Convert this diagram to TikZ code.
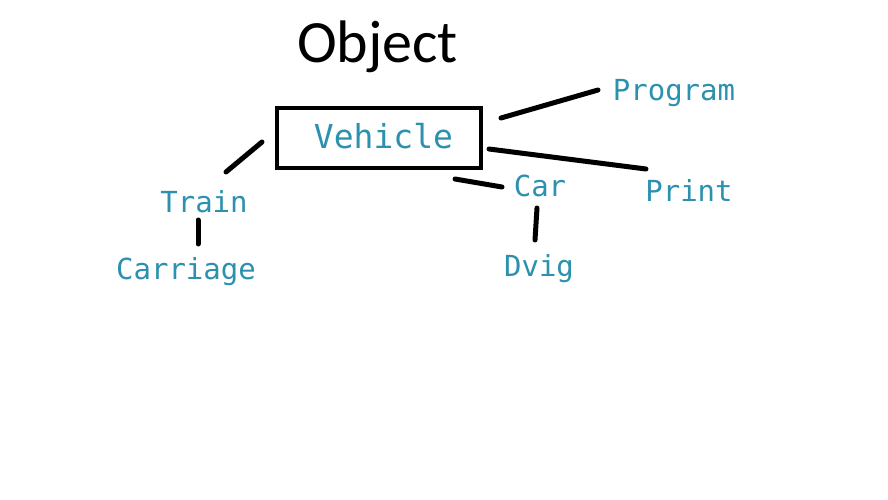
\documentclass[tikz,border=0pt]{standalone}
\usepackage{fontspec}
\setmainfont{Carlito}
\newfontfamily\codefont{DejaVu Sans Mono}
\definecolor{typecol}{HTML}{2B91AF}
\begin{document}
\begin{tikzpicture}[x=1pt,y=-1pt,
  lbl/.style={inner sep=0pt,anchor=base,text=typecol,font=\codefont\fontsize{29}{31}\selectfont},
  conn/.style={line width=5pt,line cap=round}]
\useasboundingbox[fill=white] (0,0) rectangle (888,500);
\node[inner sep=0pt,anchor=base,font=\fontsize{60}{66}\selectfont] (object) at (377.5,63) {Object};
\draw[line width=4.5pt] (277,108) rectangle (481,168);
\node[lbl,font=\codefont\fontsize{33}{35}\selectfont] (vehicle) at (383.5,148) {Vehicle};
\node[lbl] (program) at (674,101) {Program};
\node[lbl] (print) at (689,201) {Print};
\node[lbl] (car) at (540,196) {Car};
\node[lbl] (train) at (204,212) {Train};
\node[lbl] (carriage) at (186,279) {Carriage};
\node[lbl] (dvig) at (539,276) {Dvig};
\coordinate (vt1) at (262,142); \coordinate (vt2) at (226,172);
\coordinate (tc1) at (198,220); \coordinate (tc2) at (198,244);
\coordinate (vp1) at (501,118); \coordinate (vp2) at (598,90);
\coordinate (vr1) at (489,149); \coordinate (vr2) at (646,169);
\coordinate (vc1) at (455,179); \coordinate (vc2) at (502,187);
\coordinate (cd1) at (537,208); \coordinate (cd2) at (535,240);
\draw[conn] (vt1) -- (vt2);
\draw[conn] (tc1) -- (tc2);
\draw[conn] (vp1) -- (vp2);
\draw[conn] (vr1) -- (vr2);
\draw[conn] (vc1) -- (vc2);
\draw[conn] (cd1) -- (cd2);
\end{tikzpicture}
\end{document}
